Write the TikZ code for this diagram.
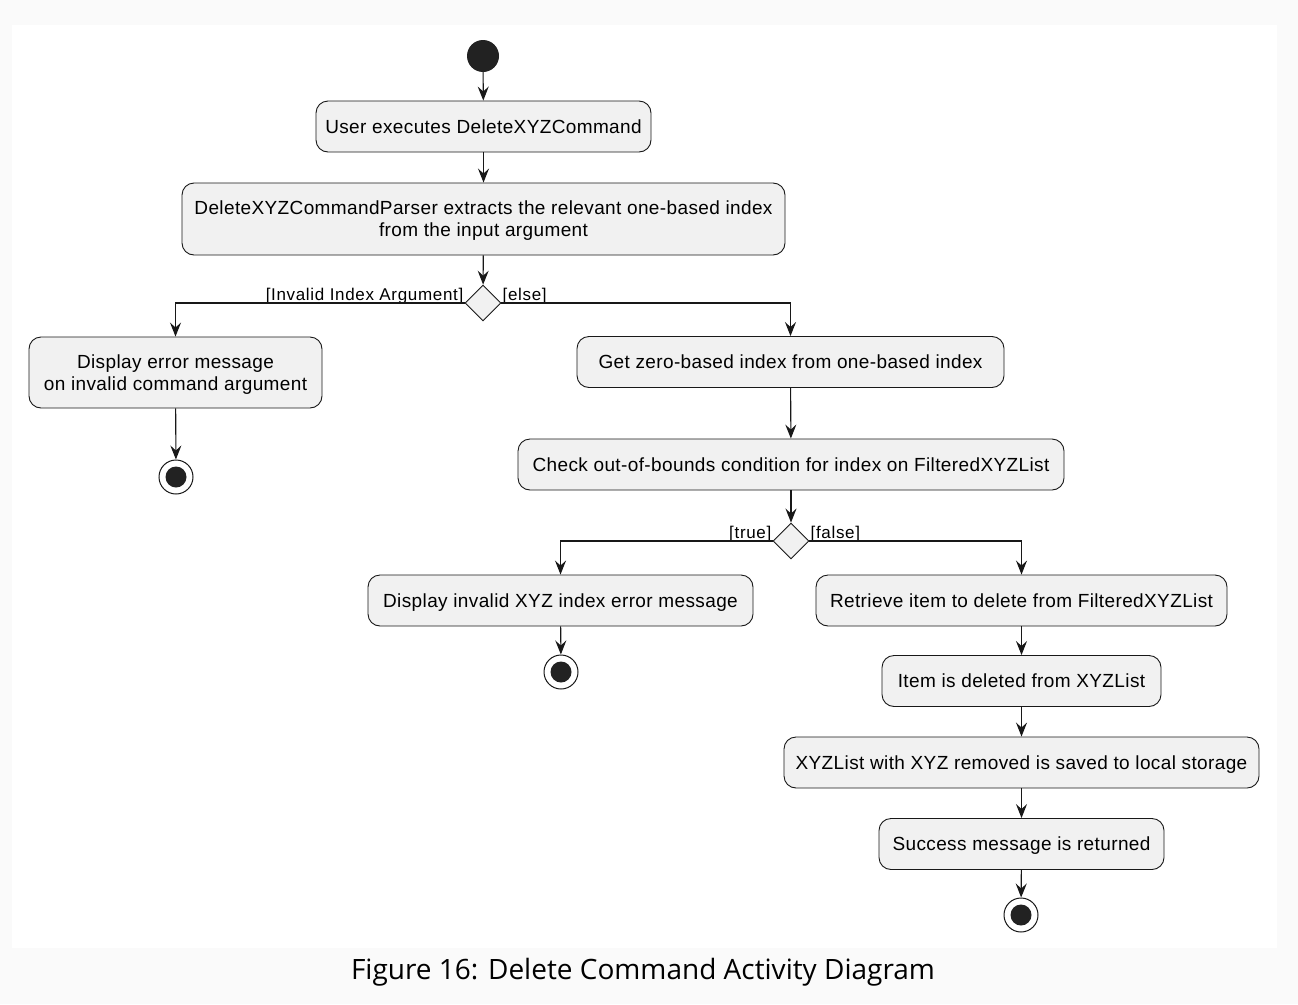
\documentclass[tikz,border=0pt]{standalone}
\usepackage{fontspec}
\usetikzlibrary{shapes.geometric,arrows.meta}
\newfontfamily\boxfont{Liberation Sans}[LetterSpace=2.0]
\newfontfamily\guardfont{Liberation Sans}[LetterSpace=4.0]
\newfontfamily\capfont{Open Sans}
\definecolor{boxfill}{HTML}{F1F1F1}
\definecolor{ink}{HTML}{181818}
\definecolor{dotcol}{HTML}{222222}
\definecolor{outerbg}{HTML}{FAFAFA}
\tikzset{
  act/.style={rectangle, rounded corners=12pt, draw=ink, fill=boxfill, line width=0.9pt,
    align=center, inner sep=0pt, minimum height=51pt, text depth=0pt,
    font=\boxfont\fontsize{19}{22}\selectfont},
  oneline/.style={text height=13.6pt},
  dec/.style={diamond, draw=ink, fill=boxfill, line width=0.9pt, minimum width=36pt,
    minimum height=36pt, inner sep=0pt},
  startdot/.style={circle, fill=dotcol, minimum size=32pt, inner sep=0pt},
  enddot/.style={circle, draw=ink, fill=white, line width=1pt, minimum size=34pt, inner sep=0pt,
    path picture={\fill[dotcol] (path picture bounding box.center) circle (10.5pt);}},
  flow/.style={draw=ink, line width=1.1pt, -{Stealth[length=14pt,width=11pt,inset=5pt]}},
  guard/.style={font=\guardfont\fontsize{17}{19}\selectfont, inner sep=0pt},
}
\begin{document}
\begin{tikzpicture}[x=1pt,y=-1pt]
\fill[outerbg] (0,0) rectangle (1298,1004);
\fill[white] (12,25) rectangle (1277,948);
\useasboundingbox (0,0) rectangle (1298,1004);

\node[startdot] (start) at (483,56) {};
\node[act, oneline, minimum width=335pt] (b1) at (483.5,126.5) {User executes DeleteXYZCommand};
\node[act, minimum width=603pt, minimum height=72pt] (b2) at (483.5,219) {DeleteXYZCommandParser extracts the relevant one-based index\\from the input argument};
\node[dec] (d1) at (483,303) {};
\node[act, minimum width=293pt, minimum height=71pt] (b3) at (175.5,372.5) {Display error message\\on invalid command argument};
\node[enddot] (e1) at (176,477) {};
\node[act, oneline, minimum width=427pt] (b4) at (790.5,362) {Get zero-based index from one-based index};
\node[act, oneline, minimum width=546pt] (b5) at (791,464.5) {Check out-of-bounds condition for index on FilteredXYZList};
\node[dec] (d2) at (791,541) {};
\node[act, oneline, minimum width=385pt] (b6) at (560.5,600.5) {Display invalid XYZ index error message};
\node[enddot] (e2) at (561,672) {};
\node[act, oneline, minimum width=411pt] (b7) at (1021.5,600.5) {Retrieve item to delete from FilteredXYZList};
\node[act, oneline, minimum width=279pt] (b8) at (1021.5,681) {Item is deleted from XYZList};
\node[act, oneline, minimum width=475pt] (b9) at (1021.5,762.5) {XYZList with XYZ removed is saved to local storage};
\node[act, oneline, minimum width=285pt] (b10) at (1021.5,844) {Success message is returned};
\node[enddot] (e3) at (1021,915) {};

\node[guard, anchor=base east] (g1) at ([xshift=-1pt,yshift=3pt]d1.west) {[Invalid Index Argument]};
\node[guard, anchor=base west] (g2) at ([xshift=1pt,yshift=3pt]d1.east) {[else]};
\node[guard, anchor=base east] (g3) at ([xshift=-1pt,yshift=3pt]d2.west) {[true]};
\node[guard, anchor=base west] (g4) at ([xshift=1pt,yshift=3pt]d2.east) {[false]};

\draw[flow] (start) -- (b1);
\draw[flow] (b1) -- (b2);
\draw[flow] (b2) -- (d1);
\draw[flow] (d1.west) -| (b3.north);
\draw[flow] (d1.east) -| (b4.north);
\draw[flow] (b3) -- (e1);
\draw[flow] (b4) -- (b5);
\draw[flow] (b5) -- (d2);
\draw[flow] (d2.west) -| (b6.north);
\draw[flow] (d2.east) -| (b7.north);
\draw[flow] (b6) -- (e2);
\draw[flow] (b7) -- (b8);
\draw[flow] (b8) -- (b9);
\draw[flow] (b9) -- (b10);
\draw[flow] (b10) -- (e3);

\node[font=\capfont\fontsize{28}{33}\selectfont, text=black] (cap) at (643,972) {Figure 16: Delete Command Activity Diagram};
\end{tikzpicture}
\end{document}
